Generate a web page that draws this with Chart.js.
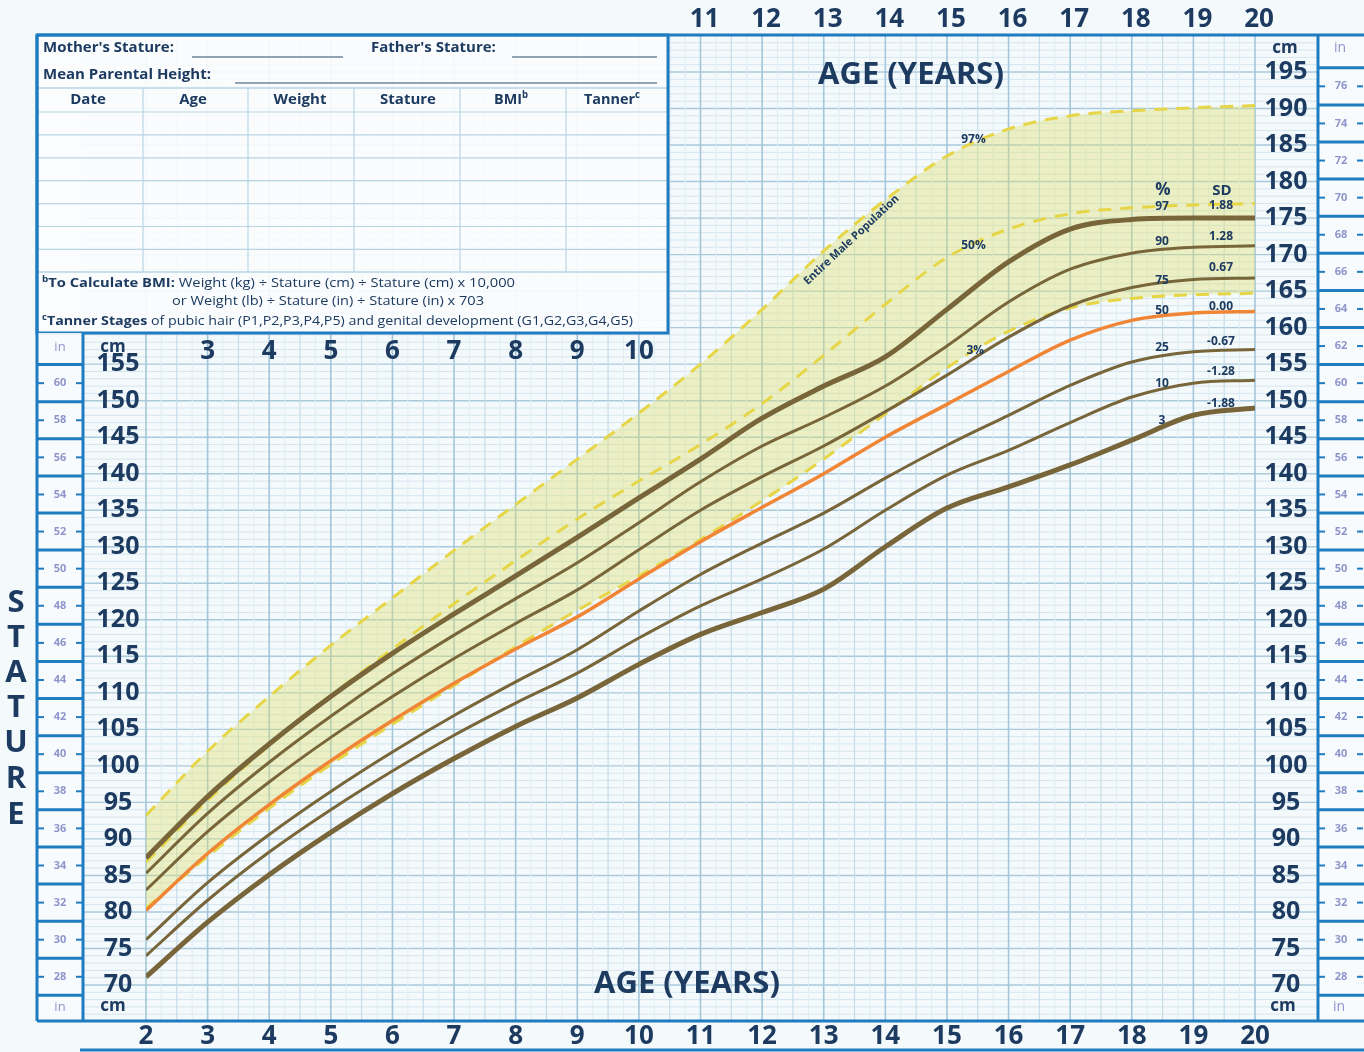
<!DOCTYPE html>
<html><head><meta charset="utf-8">
<script src="https://cdn.jsdelivr.net/npm/chart.js@4.4.1/dist/chart.umd.min.js"></script>
<style>html,body{margin:0;padding:0;background:#f4f9fb;}canvas{display:block;}</style>
</head><body>
<canvas id="c" width="1364" height="1052"></canvas>
<script>
// ---------- DATA ----------
const ages = [2,3,4,5,6,7,8,9,10,11,12,13,14,15,16,17,18,19,20];
// Syndrome percentiles (solid lines)
const p97 = [87.4,95.8,103.0,109.5,115.4,120.8,126.0,131.3,136.7,142.0,147.6,152.0,156.0,162.5,169.0,173.5,174.8,175.0,175.0];
const p90 = [85.3,93.5,100.5,106.8,112.6,117.9,122.9,127.8,133.3,138.9,143.8,147.7,152.0,157.5,163.5,168.0,170.2,171.0,171.2];
const p75 = [83.0,91.0,97.8,103.9,109.5,114.7,119.5,124.1,129.6,135.0,139.6,143.8,148.5,153.5,158.7,163.0,165.5,166.6,166.8];
const p50 = [80.2,88.0,94.7,100.7,106.2,111.3,116.0,120.4,125.6,130.7,135.4,140.0,145.0,149.5,154.0,158.3,161.0,162.0,162.2];
const p25 = [76.2,84.0,90.6,96.5,101.9,106.9,111.5,115.9,121.2,126.2,130.5,134.6,139.4,143.9,148.0,152.1,155.3,156.7,157.0];
const p10 = [74.0,81.6,88.2,94.0,99.3,104.2,108.6,112.7,117.5,121.9,125.6,129.7,135.0,139.8,143.2,147.0,150.5,152.4,152.8];
const p3  = [71.1,78.6,85.1,90.9,96.2,101.0,105.4,109.3,113.9,118.0,121.0,124.2,130.0,135.3,138.2,141.2,144.6,148.0,149.0];
// Entire male population (dashed)
const ref97 = [93.2,102.0,109.5,116.5,123.0,129.5,135.8,142.0,148.3,155.0,162.5,170.5,177.5,183.5,187.2,189.0,189.7,190.1,190.4];
const ref50 = [86.8,95.3,102.8,109.6,116.0,122.2,128.1,133.8,139.0,144.0,149.6,156.2,163.2,169.6,173.5,175.6,176.4,176.8,177.0];
const ref3  = [80.5,87.6,94.2,100.2,105.7,111.0,116.3,121.3,126.0,131.0,136.3,142.0,148.2,154.5,159.5,162.7,164.0,164.5,164.7];
// Tick labels
const cmLeft = [155,150,145,140,135,130,125,120,115,110,105,100,95,90,85,80,75,70];
const cmRight = [195,190,185,180,175,170,165,160,155,150,145,140,135,130,125,120,115,110,105,100,95,90,85,80,75,70];
const inLeft = [60,58,56,54,52,50,48,46,44,42,40,38,36,34,32,30,28];
const inRight = [76,74,72,70,68,66,64,62,60,58,56,54,52,50,48,46,44,42,40,38,36,34,32,30,28];
const ageBottom = [2,3,4,5,6,7,8,9,10,11,12,13,14,15,16,17,18,19,20];
const ageTop = [11,12,13,14,15,16,17,18,19,20];
const ageMid = [3,4,5,6,7,8,9,10];
const pctLabels = ['97','90','75','50','25','10','3'];
const sdLabels = ['1.88','1.28','0.67','0.00','-0.67','-1.28','-1.88'];
const tableCols = ['Date','Age','Weight','Stature','BMI','Tanner'];

// ---------- STYLE ----------
const NAVY = '#1d3b60';
const BLUE = '#1f7cc1';
const INC = '#8f95cb';
const OLIVE = '#78663a';
const ORANGE = '#f08536';
const YEL = '#e6d647';
const F = '"Open Sans", "DejaVu Sans", sans-serif';

function T(ctx, s, x, y, font, color, align, w) {
  ctx.save();
  ctx.font = font; ctx.fillStyle = color; ctx.textAlign = align || 'center'; ctx.textBaseline = 'middle';
  if (w) { ctx.fillText(s, x, y, w); } else { ctx.fillText(s, x, y); }
  ctx.restore();
}
function L(ctx, x1, y1, x2, y2, color, lw) {
  ctx.beginPath(); ctx.moveTo(x1, y1); ctx.lineTo(x2, y2);
  ctx.strokeStyle = color; ctx.lineWidth = lw; ctx.stroke();
}
function R(ctx, segs, x, y, color, targetW) {
  ctx.save(); ctx.fillStyle = color; ctx.textBaseline = 'middle'; ctx.textAlign = 'left';
  let tot = 0; segs.forEach(s => { ctx.font = s[1]; tot += ctx.measureText(s[0]).width; });
  const sx = targetW ? targetW / tot : 1;
  ctx.translate(x, y); ctx.scale(sx, 1);
  let cx = 0;
  segs.forEach(s => { ctx.font = s[1]; const dy = s[2] || 0; ctx.fillText(s[0], cx, dy); cx += ctx.measureText(s[0]).width; });
  ctx.restore();
}

const deco = {
  id: 'deco',
  beforeDraw(chart) {
    const ctx = chart.ctx, xs = chart.scales.x, ys = chart.scales.y;
    ctx.save();
    ctx.fillStyle = '#f4f9fb'; ctx.fillRect(0, 0, chart.width, chart.height);
    const top = ys.getPixelForValue(200), bot = ys.getPixelForValue(65);
    for (let v = 66; v < 200; v++) {
      const y = ys.getPixelForValue(v);
      if (v % 5 === 0) L(ctx, 83, y, 1318, y, '#a9c9dc', 1.4);
      else L(ctx, 83, y, 1318, y, '#d5e6ef', 1);
    }
    for (let a = 2; a <= 20.001; a += 0.25) {
      const x = xs.getPixelForValue(a);
      const r = Math.round(a * 4) % 4;
      if (r === 0) L(ctx, x, top, x, bot, '#a3c6db', 1.6);
      else if (r === 2) L(ctx, x, top, x, bot, '#c2dbe8', 1.1);
      else L(ctx, x, top, x, bot, '#e0edf4', 1);
    }
    ctx.restore();
  },
  afterDraw(chart) {
    const ctx = chart.ctx, xs = chart.scales.x, ys = chart.scales.y;
    const X = a => xs.getPixelForValue(a), Y = v => ys.getPixelForValue(v);
    ctx.save();
    // ----- Top-left table -----
    ctx.fillStyle = 'rgba(250,252,253,0.93)'; ctx.fillRect(37, 35, 631, 298);
    for (let y = 112; y <= 272; y += 22.9) L(ctx, 37, y, 668, y, '#b9d5e4', 1.2);
    L(ctx, 37, 88, 668, 88, '#b9d5e4', 1.4);
    [143, 248, 354, 460, 566].forEach(x => L(ctx, x, 88, x, 272, '#b9d5e4', 1.2));
    L(ctx, 37, 272, 668, 272, '#b9d5e4', 1.4);
    ctx.strokeStyle = BLUE; ctx.lineWidth = 3; ctx.strokeRect(37, 35, 631, 298);
    const hb = 'bold 15px ' + F;
    T(ctx, "Mother's Stature:", 43, 48, hb, NAVY, 'left', 148);
    L(ctx, 192, 57, 343, 57, '#2b4a6b', 1.2);
    T(ctx, "Father's Stature:", 371, 48, hb, NAVY, 'left', 139);
    L(ctx, 512, 57, 657, 57, '#2b4a6b', 1.2);
    T(ctx, "Mean Parental Height:", 43, 75, hb, NAVY, 'left', 190);
    L(ctx, 235, 83, 657, 83, '#2b4a6b', 1.2);
    const colX = [88, 193, 300, 408, 512, 612];
    tableCols.forEach((c, i) => {
      if (c === 'BMI') { R(ctx, [['BMI', hb], ['b', 'bold 10px ' + F, -5]], 494, 100, NAVY, 34); }
      else if (c === 'Tanner') { R(ctx, [['Tanner', hb], ['c', 'bold 10px ' + F, -5]], 584, 100, NAVY, 56); }
      else T(ctx, c, colX[i], 100, hb, NAVY, 'center');
    });
    const fb = 'bold 12px ' + F, fn = '12px ' + F;
    R(ctx, [['b', 'bold 8px ' + F, -4], ['To Calculate BMI:', fb], [' Weight (kg) \u00f7 Stature (cm) \u00f7 Stature (cm) x 10,000', fn]], 42, 284, NAVY, 473);
    R(ctx, [['or Weight (lb) \u00f7 Stature (in) \u00f7 Stature (in) x 703', fn]], 172, 302, NAVY, 312);
    R(ctx, [['c', 'bold 8px ' + F, -4], ['Tanner Stages', fb], [' of pubic hair (P1,P2,P3,P4,P5) and genital development (G1,G2,G3,G4,G5)', fn]], 42, 322, NAVY, 591);

    // ----- inch columns -----
    ctx.fillStyle = 'rgba(248,251,253,0.9)';
    ctx.fillRect(37, 333, 46, 688);
    ctx.fillRect(1318, 35, 46, 986);
    const inFont = 'bold 11px ' + F;
    for (let v = 61; v >= 27; v -= 2) L(ctx, 37, Y(v * 2.54), 83, Y(v * 2.54), BLUE, 3);
    inLeft.forEach(v => {
      const y = Y(v * 2.54);
      T(ctx, String(v), 60, y, inFont, INC, 'center');
      L(ctx, 38, y, 44, y, BLUE, 2); L(ctx, 76, y, 82, y, BLUE, 2);
    });
    T(ctx, 'in', 60, 347, '13px ' + F, INC, 'center');
    T(ctx, 'in', 60, 1007, '13px ' + F, INC, 'center');
    for (let v = 77; v >= 27; v -= 2) L(ctx, 1318, Y(v * 2.54), 1364, Y(v * 2.54), BLUE, 3);
    inRight.forEach(v => {
      const y = Y(v * 2.54);
      T(ctx, String(v), 1341, y, inFont, INC, 'center');
      L(ctx, 1319, y, 1325, y, BLUE, 2); L(ctx, 1357, y, 1363, y, BLUE, 2);
    });
    T(ctx, 'in', 1340, 48, '14px ' + F, INC, 'center');
    T(ctx, 'in', 1339, 1007, '14px ' + F, INC, 'center');

    // ----- frame lines -----
    L(ctx, 37, 35, 1364, 35, BLUE, 3);
    L(ctx, 37, 1021, 1364, 1021, BLUE, 3);
    L(ctx, 80, 1050, 1364, 1050, BLUE, 3);
    L(ctx, 37, 35, 37, 1021, BLUE, 3);
    L(ctx, 83, 333, 83, 1021, BLUE, 3);
    L(ctx, 1318, 35, 1318, 1021, BLUE, 3);

    // ----- cm labels -----
    const cmF = 'bold 25px ' + F;
    cmLeft.forEach(v => T(ctx, String(v), 118, Y(v), cmF, NAVY, 'center', 46));
    T(ctx, 'cm', 113, 347, 'bold 17px ' + F, NAVY, 'center');
    T(ctx, 'cm', 113, 1006, 'bold 17px ' + F, NAVY, 'center');
    cmRight.forEach(v => T(ctx, String(v), 1286, Y(v), cmF, NAVY, 'center', 46));
    T(ctx, 'cm', 1285, 48, 'bold 17px ' + F, NAVY, 'center');
    T(ctx, 'cm', 1283, 1006, 'bold 17px ' + F, NAVY, 'center');

    // ----- age labels -----
    const aF = 'bold 26px ' + F;
    ageBottom.forEach(a => T(ctx, String(a), X(a), 1037, aF, NAVY, 'center', a >= 10 ? 34 : null));
    ageTop.forEach(a => T(ctx, String(a), X(a) + 4, 20, aF, NAVY, 'center', 34));
    ageMid.forEach(a => T(ctx, String(a), X(a), 352, aF, NAVY, 'center', a >= 10 ? 34 : null));
    T(ctx, 'AGE (YEARS)', 911, 75, 'bold 31px ' + F, NAVY, 'center', 198);
    T(ctx, 'AGE (YEARS)', 687, 984, 'bold 31px ' + F, NAVY, 'center', 198);
    const st = 'STATURE'.split(''); const sy = [603, 638, 673, 708, 743, 779, 815];
    st.forEach((c, i) => T(ctx, c, 16, sy[i], 'bold 31px ' + F, NAVY, 'center'));

    // ----- curve annotations -----
    const sF = 'bold 12px ' + F;
    T(ctx, '97%', X(15.43), Y(185.7), sF, NAVY, 'center');
    T(ctx, '50%', X(15.43), Y(171.3), sF, NAVY, 'center');
    T(ctx, '3%', X(15.46), Y(156.9), sF, NAVY, 'center');
    ctx.save();
    ctx.translate(X(13.45), Y(172.0)); ctx.rotate(-43 * Math.PI / 180);
    T(ctx, 'Entire Male Population', 0, 0, 'bold 11px ' + F, NAVY, 'center', 160);
    ctx.restore();
    T(ctx, '%', 1163, 190, 'bold 17px ' + F, NAVY, 'center');
    T(ctx, 'SD', 1222, 191, 'bold 15px ' + F, NAVY, 'center');
    const pY = [207, 242, 281, 311, 348, 384, 421];
    const sdY = [206, 237, 268, 307, 342, 372, 404];
    pctLabels.forEach((p, i) => T(ctx, p, 1162, pY[i], 'bold 12px ' + F, NAVY, 'center'));
    sdLabels.forEach((s, i) => T(ctx, s, 1221, sdY[i], 'bold 12px ' + F, NAVY, 'center'));
    ctx.restore();
  }
};

const pts = arr => ages.map((a, i) => ({ x: a, y: arr[i] }));
const solid = (arr, w, c, ord) => ({ data: pts(arr), borderColor: c || OLIVE, borderWidth: w, fill: false, pointRadius: 0, cubicInterpolationMode: 'monotone', order: ord === undefined ? 1 : ord });
const dashed = (arr, fill) => ({ data: pts(arr), borderColor: YEL, borderWidth: 3, borderDash: [13, 9], pointRadius: 0, cubicInterpolationMode: 'monotone', fill: fill, backgroundColor: 'rgba(222,224,105,0.38)', order: 5 });

new Chart(document.getElementById('c').getContext('2d'), {
  type: 'line',
  data: {
    datasets: [
      dashed(ref97, 2),
      dashed(ref50, false),
      dashed(ref3, false),
      solid(p97, 5),
      solid(p90, 3),
      solid(p75, 3),
      solid(p25, 3),
      solid(p10, 3),
      solid(p3, 5),
      solid(p50, 3.5, ORANGE, 0)
    ]
  },
  options: {
    responsive: false, animation: false, devicePixelRatio: 1,
    layout: { padding: { left: 146, right: 109, top: 35.5, bottom: 30.5 } },
    scales: {
      x: { type: 'linear', min: 2, max: 20, display: false },
      y: { type: 'linear', min: 65, max: 200, display: false }
    },
    plugins: { legend: { display: false }, tooltip: { enabled: false }, filler: { drawTime: 'beforeDatasetsDraw' } }
  },
  plugins: [deco]
});
</script>
</body></html>
